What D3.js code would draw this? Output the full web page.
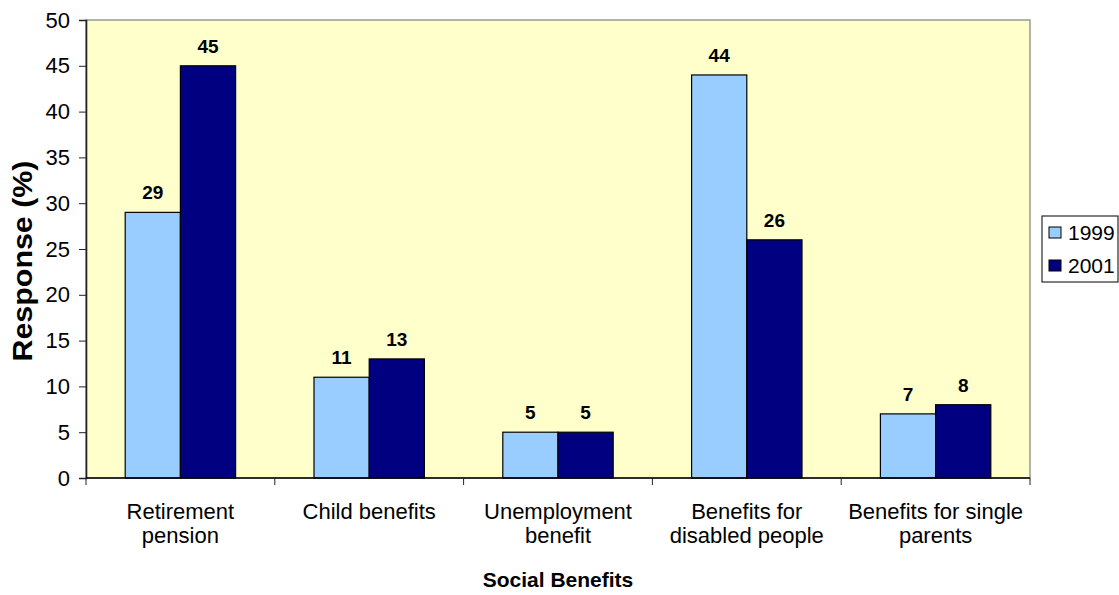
<!DOCTYPE html>
<html>
<head>
<meta charset="utf-8">
<script src="https://cdn.jsdelivr.net/npm/d3@7"></script>
<style>
  body { margin: 0; background: #fff; }
  svg { display: block; font-family: "Liberation Sans", Arial, sans-serif; }
</style>
</head>
<body>
<svg id="chart" width="1119" height="595"></svg>
<script>
// Survey data: share of respondents naming each social benefit
const categories = [
  ["Retirement", "pension"],
  ["Child benefits"],
  ["Unemployment", "benefit"],
  ["Benefits for", "disabled people"],
  ["Benefits for single", "parents"]
];
const seriesNames = ["1999", "2001"];
const values1999 = [29, 11, 5, 44, 7];
const values2001 = [45, 13, 5, 26, 8];
const yTicks = [0, 5, 10, 15, 20, 25, 30, 35, 40, 45, 50];
const colors = ["#99CCFF", "#000080"];

const svg = d3.select("#chart");
const plot = { left: 86, right: 1030, top: 20, bottom: 478 };

const x0 = d3.scaleBand()
  .domain(d3.range(categories.length))
  .range([plot.left, plot.right])
  .paddingInner(0)
  .paddingOuter(0);
const x1 = d3.scaleBand()
  .domain(seriesNames)
  .range([0, x0.bandwidth()])
  .paddingInner(0)
  .paddingOuter(0.71);
const y = d3.scaleLinear().domain([0, 50]).range([plot.bottom, plot.top]);

// plot background
svg.append("rect")
  .attr("x", plot.left).attr("y", plot.top)
  .attr("width", plot.right - plot.left).attr("height", plot.bottom - plot.top)
  .attr("fill", "#FFFFCC")
  .attr("stroke", "#999").attr("stroke-width", 1.5);

// bars
const data = categories.map((c, i) => [values1999[i], values2001[i]]);
const groups = svg.append("g").selectAll("g")
  .data(data).join("g")
  .attr("transform", (d, i) => `translate(${x0(i)},0)`);

groups.selectAll("rect")
  .data(d => d.map((v, j) => ({ v, s: seriesNames[j], j })))
  .join("rect")
  .attr("x", d => x1(d.s))
  .attr("y", d => y(d.v))
  .attr("width", x1.bandwidth())
  .attr("height", d => y(0) - y(d.v))
  .attr("fill", d => colors[d.j])
  .attr("stroke", "#000").attr("stroke-width", 1.2);

groups.selectAll("text.val")
  .data(d => d.map((v, j) => ({ v, s: seriesNames[j], j })))
  .join("text")
  .attr("class", "val")
  .attr("x", d => x1(d.s) + x1.bandwidth() / 2)
  .attr("y", d => y(d.v) - 13)
  .attr("text-anchor", "middle")
  .attr("font-size", 19).attr("font-weight", "bold")
  .text(d => d.v);

// y axis
const yAxis = svg.append("g")
  .attr("transform", `translate(${plot.left},0)`)
  .call(d3.axisLeft(y).tickValues(yTicks).tickSize(7).tickPadding(9));
yAxis.select(".domain").attr("stroke", "#222").attr("stroke-width", 1.6);
yAxis.selectAll(".tick line").attr("stroke", "#222");
yAxis.selectAll("text").attr("font-size", 22).attr("fill", "#000")
  .attr("font-family", "Liberation Sans, Arial, sans-serif");

// x axis line with ticks at category boundaries
const xAxis = svg.append("g").attr("transform", `translate(0,${plot.bottom})`);
xAxis.append("line")
  .attr("x1", plot.left).attr("x2", plot.right)
  .attr("stroke", "#000").attr("stroke-width", 1.4);
xAxis.selectAll("line.tick")
  .data(d3.range(categories.length + 1))
  .join("line")
  .attr("class", "tick")
  .attr("x1", i => i < categories.length ? x0(i) : plot.right)
  .attr("x2", i => i < categories.length ? x0(i) : plot.right)
  .attr("y1", 0).attr("y2", 7)
  .attr("stroke", "#222");

// category labels
const catLabels = svg.append("g").selectAll("text")
  .data(categories).join("text")
  .attr("x", (d, i) => x0(i) + x0.bandwidth() / 2)
  .attr("y", 519)
  .attr("text-anchor", "middle")
  .attr("font-size", 22);
catLabels.selectAll("tspan")
  .data(d => d).join("tspan")
  .attr("x", function () { return d3.select(this.parentNode).attr("x"); })
  .attr("dy", (d, i) => i === 0 ? 0 : 24)
  .text(d => d);

// axis titles
svg.append("text")
  .attr("x", (plot.left + plot.right) / 2).attr("y", 587)
  .attr("text-anchor", "middle")
  .attr("font-size", 21).attr("font-weight", "bold")
  .text("Social Benefits");
svg.append("text")
  .attr("transform", `translate(32,261) rotate(-90)`)
  .attr("text-anchor", "middle")
  .attr("font-size", 27).attr("font-weight", "bold")
  .attr("textLength", 201).attr("lengthAdjust", "spacingAndGlyphs")
  .text("Response (%)");

// legend
const legend = svg.append("g");
legend.append("rect")
  .attr("x", 1042).attr("y", 216).attr("width", 76).attr("height", 66)
  .attr("fill", "#fff").attr("stroke", "#000").attr("stroke-width", 1);
const items = legend.selectAll("g.item")
  .data(seriesNames).join("g")
  .attr("transform", (d, i) => `translate(1049,${227 + i * 33})`);
items.append("rect")
  .attr("width", 12).attr("height", 11)
  .attr("fill", (d, i) => colors[i]).attr("stroke", "#000");
items.append("text")
  .attr("x", 19).attr("y", 13)
  .attr("font-size", 21)
  .text(d => d);
</script>
</body>
</html>
